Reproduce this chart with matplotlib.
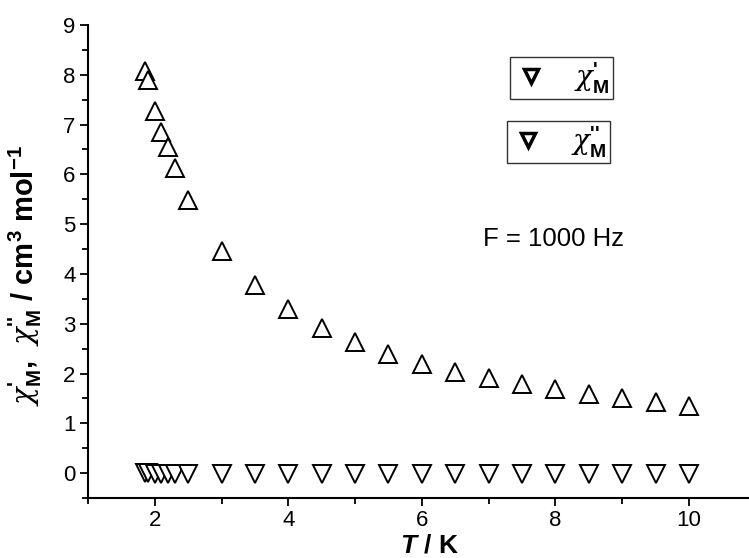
import matplotlib
matplotlib.use("Agg")
import matplotlib.pyplot as plt
from matplotlib.lines import Line2D
from matplotlib.ticker import MultipleLocator

# temperatures (K)
temp = [1.86, 1.9, 2.0, 2.1, 2.2, 2.3, 2.5, 3.0, 3.5, 4.0, 4.5, 5.0, 5.5,
        6.0, 6.5, 7.0, 7.5, 8.0, 8.5, 9.0, 9.5, 10.0]
# in-phase susceptibility chi_M'
chi_in = [8.07, 7.89, 7.28, 6.85, 6.55, 6.12, 5.48, 4.46, 3.77, 3.29, 2.92,
          2.63, 2.40, 2.20, 2.04, 1.91, 1.79, 1.68, 1.58, 1.50, 1.42, 1.35]
# out-of-phase susceptibility chi_M''
chi_out = [0.0, 0.0, -0.01, -0.01, -0.01, -0.01, -0.01, -0.01, -0.01, -0.01,
           -0.01, -0.01, -0.01, -0.01, -0.01, -0.01, -0.01, -0.01, -0.01,
           -0.01, -0.01, -0.01]

plt.rcParams["font.family"] = ["Liberation Sans", "DejaVu Sans"]
plt.rcParams["mathtext.fontset"] = "custom"
plt.rcParams["mathtext.rm"] = "Liberation Sans:bold"
plt.rcParams["mathtext.bf"] = "Liberation Sans:bold"
plt.rcParams["mathtext.it"] = "Liberation Sans:italic:bold"
plt.rcParams["mathtext.sf"] = "DejaVu Serif:italic"

CHI = r"\mathsf{\chi}"

fig = plt.figure(figsize=(7.49, 5.58), dpi=100)
ax = fig.add_axes([88 / 749, 60 / 558, 1 - 88 / 749, 473 / 558])

ax.plot(temp, chi_in, linestyle="none", marker="^", ms=12.5,
        mfc="white", mec="black", mew=1.4, clip_on=False)
ax.plot(temp, chi_out, linestyle="none", marker="v", ms=12.5,
        mfc="white", mec="black", mew=1.4, clip_on=False)

ax.set_xlim(1.0, 10.9)
ax.set_ylim(-0.5, 9.0)
ax.xaxis.set_major_locator(MultipleLocator(2))
ax.xaxis.set_minor_locator(MultipleLocator(1))
ax.yaxis.set_major_locator(MultipleLocator(1))
ax.yaxis.set_minor_locator(MultipleLocator(0.5))
ax.set_xticks([2, 4, 6, 8, 10])

for side in ("top", "right"):
    ax.spines[side].set_visible(False)
for side in ("left", "bottom"):
    ax.spines[side].set_linewidth(1.5)
ax.tick_params(which="major", direction="out", length=6, width=1.3,
               labelsize=16, pad=3)
ax.tick_params(which="minor", direction="out", length=4, width=1.3)

ax.set_xlabel(r"$T$ / K", fontsize=19, fontweight="bold")
ax.xaxis.set_label_coords(0.516, -0.074)
ax.set_ylabel(r"$" + CHI + r"_\mathbf{M}^{\text{'}}$,  $" + CHI
              + r"_\mathbf{M}^{\text{''}}$ / cm$^\mathbf{3}$ mol$^\mathbf{-1}$",
              fontsize=21, fontweight="bold")
ax.yaxis.set_label_coords(-0.066, 0.471)

ax.text(6.92, 4.71, "F = 1000 Hz", fontsize=18.5, va="center", ha="left")

handle = Line2D([], [], linestyle="none", marker="v", ms=10,
                mfc="white", mec="black", mew=2.5)
leg_opts = dict(loc="upper left", bbox_transform=fig.transFigure, fontsize=20,
                frameon=True, fancybox=False, edgecolor="black",
                borderpad=0.12, handlelength=1.3, handletextpad=0.9,
                borderaxespad=0)
leg1 = ax.legend([handle], [r"$" + CHI + r"_\mathbf{M}^{\text{'}}$"],
                 bbox_to_anchor=(510 / 749, 1 - 57 / 558), **leg_opts)
leg1.get_frame().set_linewidth(1.0)
ax.add_artist(leg1)
leg2 = ax.legend([handle], [r"$" + CHI + r"_\mathbf{M}^{\text{''}}$"],
                 bbox_to_anchor=(507 / 749, 1 - 121 / 558), **leg_opts)
leg2.get_frame().set_linewidth(1.0)

fig.savefig("out.png", dpi=100)
